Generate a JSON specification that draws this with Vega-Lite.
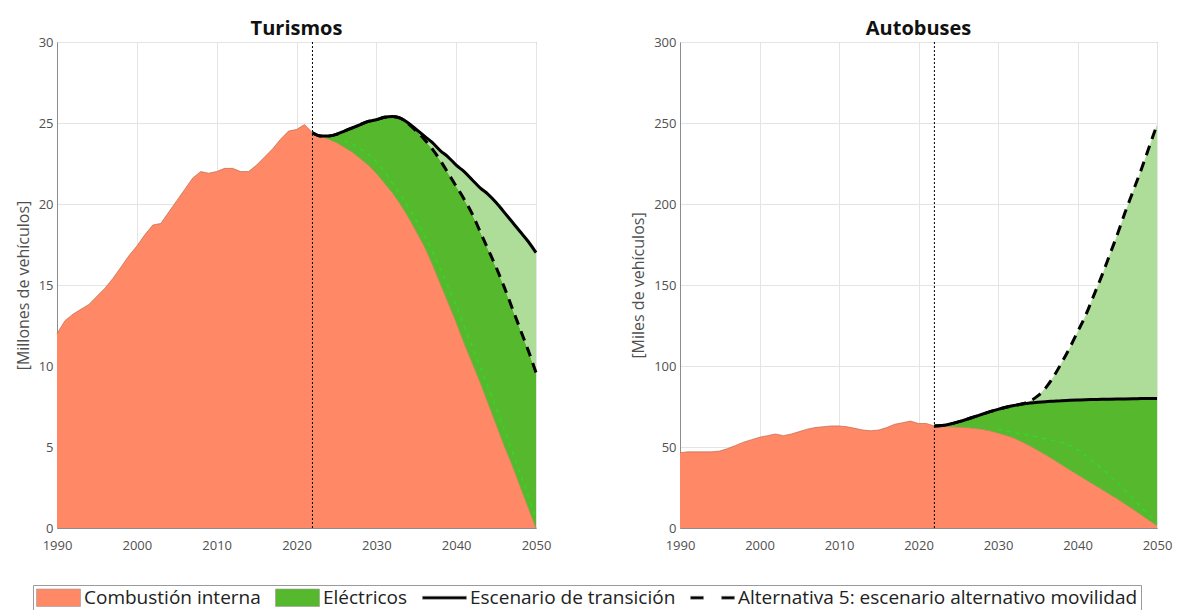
{
  "$schema": "https://vega.github.io/schema/vega-lite/v6.json",
  "background": "white",
  "padding": {"left": 14, "top": 18, "right": 5, "bottom": 0},
  "bounds": "flush",
  "spacing": 144,
  "config": {
    "font": "Open Sans",
    "view": {"stroke": "#8c8c8c", "strokeWidth": 1},
    "axis": {
      "grid": true,
      "gridColor": "#e4e4e4",
      "gridWidth": 1,
      "domainColor": "#8c8c8c",
      "ticks": false,
      "labelColor": "#505050",
      "labelFont": "Open Sans",
      "labelFontSize": 13,
      "titleFont": "Open Sans",
      "titleFontSize": 16,
      "titleFontWeight": "normal",
      "titleColor": "#505050"
    },
    "axisX": {"labelPadding": 11, "labelFlush": false},
    "axisY": {"labelPadding": 4, "titlePadding": 7},
    "area": {"opacity": 1, "fillOpacity": 1},
    "title": {"font": "Open Sans", "fontSize": 20, "fontWeight": "bold", "color": "#111111", "offset": -3}
  },
  "datasets": {
    "turismos": [
      {"anio": 1990, "comb": 12.0}, {"anio": 1991, "comb": 12.8}, {"anio": 1992, "comb": 13.2},
      {"anio": 1993, "comb": 13.5}, {"anio": 1994, "comb": 13.8}, {"anio": 1995, "comb": 14.3},
      {"anio": 1996, "comb": 14.8}, {"anio": 1997, "comb": 15.4}, {"anio": 1998, "comb": 16.1},
      {"anio": 1999, "comb": 16.8}, {"anio": 2000, "comb": 17.4}, {"anio": 2001, "comb": 18.1},
      {"anio": 2002, "comb": 18.7}, {"anio": 2003, "comb": 18.8}, {"anio": 2004, "comb": 19.5},
      {"anio": 2005, "comb": 20.2}, {"anio": 2006, "comb": 20.9}, {"anio": 2007, "comb": 21.6},
      {"anio": 2008, "comb": 22.0}, {"anio": 2009, "comb": 21.9}, {"anio": 2010, "comb": 22.0},
      {"anio": 2011, "comb": 22.2}, {"anio": 2012, "comb": 22.2}, {"anio": 2013, "comb": 22.0},
      {"anio": 2014, "comb": 22.0}, {"anio": 2015, "comb": 22.4}, {"anio": 2016, "comb": 22.9},
      {"anio": 2017, "comb": 23.4}, {"anio": 2018, "comb": 24.0}, {"anio": 2019, "comb": 24.5},
      {"anio": 2020, "comb": 24.6}, {"anio": 2021, "comb": 24.9},
      {"anio": 2022, "comb": 24.4, "total": 24.4, "alt5": 24.4},
      {"anio": 2023, "comb": 24.2, "total": 24.2, "alt5": 24.2},
      {"anio": 2024, "comb": 24.0, "total": 24.2, "alt5": 24.2},
      {"anio": 2025, "comb": 23.8, "total": 24.3, "alt5": 24.3},
      {"anio": 2026, "comb": 23.5, "total": 24.5, "alt5": 24.5, "verde": 23.9},
      {"anio": 2027, "comb": 23.2, "total": 24.7, "alt5": 24.7},
      {"anio": 2028, "comb": 22.8, "total": 24.9, "alt5": 24.9, "verde": 23.4},
      {"anio": 2029, "comb": 22.4, "total": 25.1, "alt5": 25.1},
      {"anio": 2030, "comb": 21.9, "total": 25.2, "alt5": 25.2, "verde": 22.6},
      {"anio": 2031, "comb": 21.3, "total": 25.35, "alt5": 25.35},
      {"anio": 2032, "comb": 20.7, "total": 25.4, "alt5": 25.4, "verde": 21.3},
      {"anio": 2033, "comb": 20.0, "total": 25.3, "alt5": 25.3},
      {"anio": 2034, "comb": 19.2, "total": 25.0, "alt5": 24.95, "verde": 19.8},
      {"anio": 2035, "comb": 18.3, "total": 24.6, "alt5": 24.5},
      {"anio": 2036, "comb": 17.4, "total": 24.2, "alt5": 24.0, "verde": 18.1},
      {"anio": 2037, "comb": 16.3, "total": 23.8, "alt5": 23.4},
      {"anio": 2038, "comb": 15.1, "total": 23.3, "alt5": 22.7, "verde": 16.0},
      {"anio": 2039, "comb": 13.9, "total": 22.9, "alt5": 21.9},
      {"anio": 2040, "comb": 12.7, "total": 22.4, "alt5": 21.1, "verde": 13.7},
      {"anio": 2041, "comb": 11.4, "total": 22.0, "alt5": 20.3},
      {"anio": 2042, "comb": 10.2, "total": 21.5, "alt5": 19.4, "verde": 11.2},
      {"anio": 2043, "comb": 9.0, "total": 21.0, "alt5": 18.3},
      {"anio": 2044, "comb": 7.7, "total": 20.6, "alt5": 17.2, "verde": 8.7},
      {"anio": 2045, "comb": 6.4, "total": 20.1, "alt5": 16.1},
      {"anio": 2046, "comb": 5.1, "total": 19.5, "alt5": 14.9, "verde": 6.1},
      {"anio": 2047, "comb": 3.9, "total": 18.9, "alt5": 13.6},
      {"anio": 2048, "comb": 2.6, "total": 18.3, "alt5": 12.3, "verde": 3.4},
      {"anio": 2049, "comb": 1.3, "total": 17.7, "alt5": 11.0},
      {"anio": 2050, "comb": 0.0, "total": 17.0, "alt5": 9.6, "verde": 0.6}
    ],
    "autobuses": [
      {"anio": 1990, "comb": 46.5}, {"anio": 1991, "comb": 47}, {"anio": 1992, "comb": 47},
      {"anio": 1993, "comb": 47}, {"anio": 1994, "comb": 47}, {"anio": 1995, "comb": 47.5},
      {"anio": 1996, "comb": 49}, {"anio": 1997, "comb": 51}, {"anio": 1998, "comb": 53},
      {"anio": 1999, "comb": 54.5}, {"anio": 2000, "comb": 56}, {"anio": 2001, "comb": 57},
      {"anio": 2002, "comb": 58}, {"anio": 2003, "comb": 57}, {"anio": 2004, "comb": 58},
      {"anio": 2005, "comb": 59.5}, {"anio": 2006, "comb": 61}, {"anio": 2007, "comb": 62},
      {"anio": 2008, "comb": 62.5}, {"anio": 2009, "comb": 63}, {"anio": 2010, "comb": 63},
      {"anio": 2011, "comb": 62.5}, {"anio": 2012, "comb": 61.5}, {"anio": 2013, "comb": 60.5},
      {"anio": 2014, "comb": 60}, {"anio": 2015, "comb": 60.5}, {"anio": 2016, "comb": 62},
      {"anio": 2017, "comb": 64}, {"anio": 2018, "comb": 65}, {"anio": 2019, "comb": 66},
      {"anio": 2020, "comb": 64.5}, {"anio": 2021, "comb": 64.5},
      {"anio": 2022, "comb": 63, "total": 63, "alt5": 63},
      {"anio": 2023, "comb": 62.8, "total": 63.3, "alt5": 63.3},
      {"anio": 2024, "comb": 62.5, "total": 64.2, "alt5": 64.2},
      {"anio": 2025, "comb": 62.3, "total": 65.5, "alt5": 65.5},
      {"anio": 2026, "comb": 62, "total": 67, "alt5": 67},
      {"anio": 2027, "comb": 61.6, "total": 68.6, "alt5": 68.6},
      {"anio": 2028, "comb": 61, "total": 70.2, "alt5": 70.2},
      {"anio": 2029, "comb": 60, "total": 71.8, "alt5": 71.8},
      {"anio": 2030, "comb": 58.7, "total": 73.2, "alt5": 73.2, "verde": 61},
      {"anio": 2031, "comb": 57.2, "total": 74.5, "alt5": 74.5},
      {"anio": 2032, "comb": 55.5, "total": 75.6, "alt5": 75.6},
      {"anio": 2033, "comb": 53.2, "total": 76.5, "alt5": 76.5, "verde": 58},
      {"anio": 2034, "comb": 50.7, "total": 77.1, "alt5": 78.3},
      {"anio": 2035, "comb": 48, "total": 77.6, "alt5": 81.5},
      {"anio": 2036, "comb": 45.2, "total": 78, "alt5": 86.5, "verde": 55},
      {"anio": 2037, "comb": 42.2, "total": 78.3, "alt5": 93.5},
      {"anio": 2038, "comb": 39.1, "total": 78.6, "alt5": 102},
      {"anio": 2039, "comb": 36, "total": 78.8, "alt5": 111, "verde": 51},
      {"anio": 2040, "comb": 33, "total": 79, "alt5": 121},
      {"anio": 2041, "comb": 30, "total": 79.2, "alt5": 131},
      {"anio": 2042, "comb": 27, "total": 79.3, "alt5": 143, "verde": 41},
      {"anio": 2043, "comb": 24, "total": 79.4, "alt5": 155},
      {"anio": 2044, "comb": 21, "total": 79.5, "alt5": 168},
      {"anio": 2045, "comb": 18, "total": 79.6, "alt5": 181, "verde": 28},
      {"anio": 2046, "comb": 14.8, "total": 79.7, "alt5": 195},
      {"anio": 2047, "comb": 11.5, "total": 79.8, "alt5": 208},
      {"anio": 2048, "comb": 8.2, "total": 79.9, "alt5": 221, "verde": 13},
      {"anio": 2049, "comb": 4.8, "total": 80, "alt5": 235},
      {"anio": 2050, "comb": 1.5, "total": 80, "alt5": 249, "verde": 3}
    ],
    "leyenda": [
      {"serie": "Combustión interna", "anio": 1990, "valor": 0},
      {"serie": "Eléctricos", "anio": 1990, "valor": 0},
      {"serie": "Escenario de transición", "anio": 1990, "valor": 0},
      {"serie": "Alternativa 5: escenario alternativo movilidad", "anio": 1990, "valor": 0}
    ]
  },
  "hconcat": [
    {
      "width": 479,
      "height": 486,
      "title": {"text": "Turismos"},
      "layer": [
        {
          "data": {"name": "turismos"},
          "mark": {"type": "area", "color": "#FF8866", "opacity": 1, "line": {"color": "#c0684c", "strokeWidth": 0.7}},
          "encoding": {
            "x": {"field": "anio", "type": "quantitative", "scale": {"domain": [1990, 2050], "nice": false, "zero": false},
                  "axis": {"title": null, "values": [1990, 2000, 2010, 2020, 2030, 2040, 2050], "format": "d"}},
            "y": {"field": "comb", "type": "quantitative", "scale": {"domain": [0, 30], "nice": false},
                  "axis": {"title": "[Millones de vehículos]", "values": [0, 5, 10, 15, 20, 25, 30]}}
          }
        },
        {
          "data": {"name": "turismos"},
          "transform": [{"filter": "datum.total != null"}],
          "mark": {"type": "area", "color": "#56B82C", "opacity": 1},
          "encoding": {
            "x": {"field": "anio", "type": "quantitative"},
            "y": {"field": "comb", "type": "quantitative"},
            "y2": {"field": "alt5"}
          }
        },
        {
          "data": {"name": "turismos"},
          "transform": [{"filter": "datum.total != null"}],
          "mark": {"type": "area", "color": "#AEDD9A", "opacity": 1},
          "encoding": {
            "x": {"field": "anio", "type": "quantitative"},
            "y": {"field": "alt5", "type": "quantitative"},
            "y2": {"field": "total"}
          }
        },
        {
          "data": {"name": "turismos"},
          "transform": [{"filter": "datum.verde != null"}],
          "mark": {"type": "line", "color": "#2BE02B", "strokeWidth": 1.6, "strokeDash": [4, 5], "opacity": 0.8, "interpolate": "monotone"},
          "encoding": {
            "x": {"field": "anio", "type": "quantitative"},
            "y": {"field": "verde", "type": "quantitative"}
          }
        },
        {
          "data": {"values": [{"anio": 2022}]},
          "mark": {"type": "rule", "color": "#000000", "strokeWidth": 1, "strokeDash": [2, 2]},
          "encoding": {"x": {"field": "anio", "type": "quantitative"}}
        },
        {
          "data": {"name": "turismos"},
          "transform": [{"filter": "datum.total != null"}],
          "mark": {"type": "line", "color": "#000000", "strokeWidth": 3, "strokeDash": [10, 7], "interpolate": "monotone"},
          "encoding": {
            "x": {"field": "anio", "type": "quantitative"},
            "y": {"field": "alt5", "type": "quantitative"}
          }
        },
        {
          "data": {"name": "turismos"},
          "transform": [{"filter": "datum.total != null"}],
          "mark": {"type": "line", "color": "#000000", "strokeWidth": 3, "interpolate": "monotone"},
          "encoding": {
            "x": {"field": "anio", "type": "quantitative"},
            "y": {"field": "total", "type": "quantitative"}
          }
        },
        {
          "data": {"name": "leyenda"},
          "mark": {"type": "point", "filled": true, "opacity": 0},
          "encoding": {
            "x": {"field": "anio", "type": "quantitative"},
            "y": {"field": "valor", "type": "quantitative"},
            "shape": {
              "field": "serie",
              "type": "nominal",
              "scale": {
                "domain": ["Combustión interna", "Eléctricos", "Escenario de transición", "Alternativa 5: escenario alternativo movilidad"],
                "range": [
                  "M-1,-0.97H3.89V0.97H-1Z",
                  "M-1,-0.97H3.89V0.97H-1Z",
                  "M-1,-0.17H3.89V0.17H-1Z",
                  "M-1,-0.17H0.45V0.17H-1ZM2.45,-0.17H3.89V0.17H2.45Z"
                ]
              },
              "legend": null
            },
            "color": {
              "field": "serie",
              "type": "nominal",
              "scale": {
                "domain": ["Combustión interna", "Eléctricos", "Escenario de transición", "Alternativa 5: escenario alternativo movilidad"],
                "range": ["#FF8866", "#56B82C", "#000000", "#000000"]
              },
              "legend": {
                "title": null,
                "orient": "none",
                "legendX": -24,
                "legendY": 543,
                "direction": "horizontal",
                "columns": 4,
                "strokeColor": "#9a9a9a",
                "fillColor": "#ffffff",
                "padding": 3,
                "columnPadding": 13,
                "labelOffset": 29,
                "labelFont": "Open Sans",
                "labelFontSize": 19,
                "labelColor": "#222222",
                "labelLimit": 800,
                "symbolSize": 324,
                "symbolOpacity": 1,
                "symbolStrokeColor": "#9a9a9a",
                "symbolStrokeWidth": 0.6
              }
            }
          }
        }
      ]
    },
    {
      "width": 477,
      "height": 486,
      "title": {"text": "Autobuses"},
      "layer": [
        {
          "data": {"name": "autobuses"},
          "mark": {"type": "area", "color": "#FF8866", "opacity": 1, "line": {"color": "#c0684c", "strokeWidth": 0.7}},
          "encoding": {
            "x": {"field": "anio", "type": "quantitative", "scale": {"domain": [1990, 2050], "nice": false, "zero": false},
                  "axis": {"title": null, "values": [1990, 2000, 2010, 2020, 2030, 2040, 2050], "format": "d"}},
            "y": {"field": "comb", "type": "quantitative", "scale": {"domain": [0, 300], "nice": false},
                  "axis": {"title": "[Miles de vehículos]", "values": [0, 50, 100, 150, 200, 250, 300]}}
          }
        },
        {
          "data": {"name": "autobuses"},
          "transform": [{"filter": "datum.total != null"}],
          "mark": {"type": "area", "color": "#56B82C", "opacity": 1},
          "encoding": {
            "x": {"field": "anio", "type": "quantitative"},
            "y": {"field": "comb", "type": "quantitative"},
            "y2": {"field": "total"}
          }
        },
        {
          "data": {"name": "autobuses"},
          "transform": [{"filter": "datum.total != null"}],
          "mark": {"type": "area", "color": "#AEDD9A", "opacity": 1},
          "encoding": {
            "x": {"field": "anio", "type": "quantitative"},
            "y": {"field": "total", "type": "quantitative"},
            "y2": {"field": "alt5"}
          }
        },
        {
          "data": {"name": "autobuses"},
          "transform": [{"filter": "datum.verde != null"}],
          "mark": {"type": "line", "color": "#2BE02B", "strokeWidth": 1.6, "strokeDash": [4, 5], "opacity": 0.8, "interpolate": "monotone"},
          "encoding": {
            "x": {"field": "anio", "type": "quantitative"},
            "y": {"field": "verde", "type": "quantitative"}
          }
        },
        {
          "data": {"values": [{"anio": 2022}]},
          "mark": {"type": "rule", "color": "#000000", "strokeWidth": 1, "strokeDash": [2, 2]},
          "encoding": {"x": {"field": "anio", "type": "quantitative"}}
        },
        {
          "data": {"name": "autobuses"},
          "transform": [{"filter": "datum.total != null"}],
          "mark": {"type": "line", "color": "#000000", "strokeWidth": 3, "strokeDash": [10, 7], "interpolate": "monotone"},
          "encoding": {
            "x": {"field": "anio", "type": "quantitative"},
            "y": {"field": "alt5", "type": "quantitative"}
          }
        },
        {
          "data": {"name": "autobuses"},
          "transform": [{"filter": "datum.total != null"}],
          "mark": {"type": "line", "color": "#000000", "strokeWidth": 3, "interpolate": "monotone"},
          "encoding": {
            "x": {"field": "anio", "type": "quantitative"},
            "y": {"field": "total", "type": "quantitative"}
          }
        }
      ]
    }
  ]
}
